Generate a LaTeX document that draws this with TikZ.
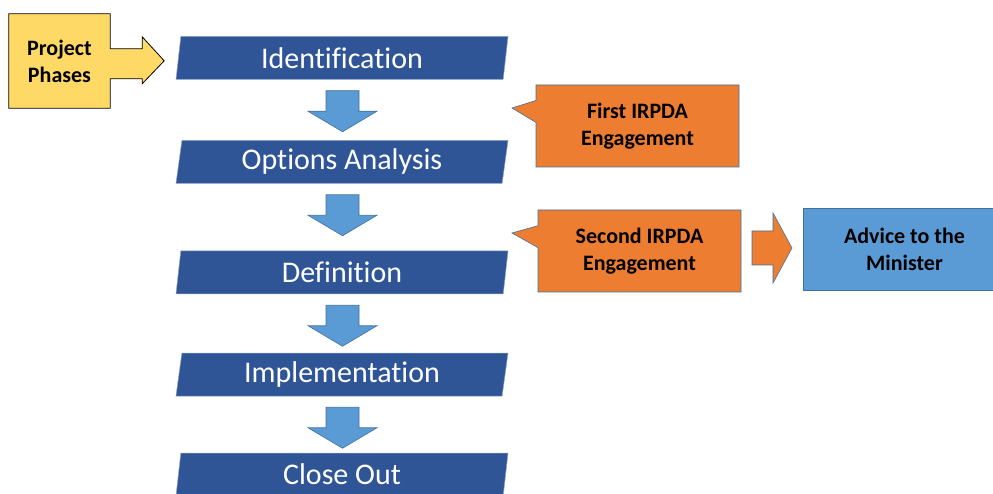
\documentclass[tikz,border=0pt]{standalone}
\usepackage{fontspec}
\setmainfont{Carlito}[Ligatures=NoCommon]
\usetikzlibrary{shapes.geometric,shapes.callouts,calc}
\definecolor{phaseblue}{HTML}{2F5597}
\definecolor{stepblue}{HTML}{5B9BD5}
\definecolor{edgeblue}{HTML}{41719C}
\definecolor{irpdaorange}{HTML}{ED7D31}
\definecolor{phasesyellow}{HTML}{FFD966}
% block arrow hanging below a phase
\newcommand{\stepdown}[1]{%
  \coordinate (t) at ($(#1.south)+(0.5,11)$);
  \draw[stepshape] ($(t)+(-16.5,0)$) -- ($(t)+(16.5,0)$) -- ($(t)+(16.5,20.5)$)
    -- ($(t)+(34.5,20.5)$) -- ($(t)+(0,41)$) -- ($(t)+(-34.5,20.5)$)
    -- ($(t)+(-16.5,20.5)$) -- cycle;}

\begin{document}
\begin{tikzpicture}[
    x=1pt, y=-1pt,
    phase/.style={trapezium, trapezium left angle=77, trapezium right angle=103,
        trapezium stretches body, minimum width=332pt, minimum height=43pt,
        inner sep=0pt, fill=phaseblue, draw=phaseblue!55!white, line width=0.5pt,
        text=white, font=\fontsize{30}{36}\selectfont},
    stepshape/.style={fill=stepblue, draw=edgeblue, line width=0.6pt},
    engage/.style={rectangle callout, callout pointer width=22pt,
        minimum width=203pt, minimum height=82pt, inner sep=0pt,
        fill=irpdaorange, draw=edgeblue, line width=0.6pt},
    every node/.style={align=center, font=\fontsize{22}{27}\selectfont\bfseries}
]
\useasboundingbox (0,0) rectangle (993,494);

% phases
\node[phase] (ident) at (342,58) {Identification};
\node[phase] (options) at (342,162) {Options Analysis};
\node[phase] (defn) at (342,272.5) {Definition};
\node[phase] (impl) at (342,374.5) {Implementation};
\node[phase] (close) at (342,474.5) {Close Out};

\stepdown{ident}
\stepdown{options}
\stepdown{defn}
\stepdown{impl}

% project phases label
\node[fill=phasesyellow, minimum width=101pt, minimum height=94pt, inner sep=0pt]
    (phases) at (59.5,61) {Project\\Phases};
\fill[phasesyellow] ($(phases.north east)+(0,35)$) -- ++(32,0) -- ++(0,-12)
    -- ++(22,24) -- ++(-22,23) -- ++(0,-5) -- ++(-32,0) -- cycle;
\draw[line width=0.8pt] (phases.north west) -- (phases.north east) -- ++(0,35)
    -- ++(32,0) -- ++(0,-12) -- ++(22,24) -- ++(-22,23) -- ++(0,-5) -- ++(-32,0)
    -- (phases.south east) -- (phases.south west) -- cycle;

% IRPDA engagements
\node[engage, callout absolute pointer={(512,108)}] (first) at (637.5,126)
    {First IRPDA\\Engagement};
\node[engage, callout absolute pointer={(512,233)}] (second) at (639.5,251)
    {Second IRPDA\\Engagement};
\node[fill=stepblue, draw=edgeblue, line width=0.6pt, minimum width=203pt,
    minimum height=82pt, inner sep=0pt] (advice) at (904.5,249)
    {Advice to the\\Minister};

\coordinate (m) at ($(second.east)!0.5!(advice.west)+(0,-2)$);
\draw[fill=irpdaorange, draw=edgeblue, line width=0.6pt]
    ($(m)+(-20,-17)$) -- ($(m)+(1,-17)$) -- ($(m)+(1,-35)$) -- ($(m)+(20,0)$)
    -- ($(m)+(1,35)$) -- ($(m)+(1,17)$) -- ($(m)+(-20,17)$) -- cycle;
\end{tikzpicture}
\end{document}
